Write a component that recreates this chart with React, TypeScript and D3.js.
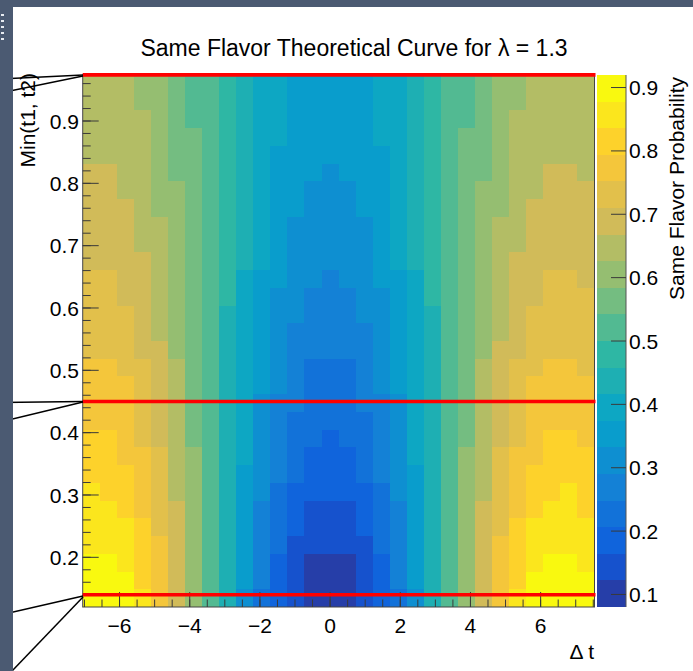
import React from "react";
import * as d3 from "d3";

const WIDTH = 693;
const HEIGHT = 671;

// ---- axis ranges / ticks ----
const deltaTRange: [number, number] = [-7.05, 7.535];
const minTRange: [number, number] = [0.1203, 0.9738];
const zRange: [number, number] = [0.0802, 0.9198];
const nContours = 20;
const xTickValues = [-6, -4, -2, 0, 2, 4, 6];
const yTickValues = [0.2, 0.3, 0.4, 0.5, 0.6, 0.7, 0.8, 0.9];
const zTickValues = [0.1, 0.2, 0.3, 0.4, 0.5, 0.6, 0.7, 0.8, 0.9];
const redLineLevels = [0.974, 0.45, 0.14];

// ---- Same flavor probability (%) : rows top (Min ~0.96) -> bottom (Min ~0.13), 30 Δt bins left -> right ----
const probabilityPercent: number[][] = [
  [65,65,65,60,60,56,52,52,48,44,40,40,35,35,35,35,35,40,40,44,48,52,52,56,60,60,65,65,65,65],
  [65,65,65,60,60,56,52,52,48,44,40,40,35,35,35,35,35,40,40,44,48,52,52,56,60,60,65,65,65,65],
  [65,65,65,65,60,56,52,52,48,44,40,40,35,35,35,35,35,40,40,44,48,52,52,56,60,65,65,65,65,65],
  [65,65,65,65,60,56,56,52,48,44,40,40,35,35,35,35,35,40,40,44,48,52,56,56,60,65,65,65,65,65],
  [65,65,65,65,60,56,56,52,48,44,40,35,35,35,35,35,35,35,40,44,48,52,56,56,60,65,65,65,65,65],
  [69,69,65,65,60,56,56,52,48,44,40,35,35,35,31,35,35,35,40,44,48,52,56,56,60,65,65,69,69,65],
  [69,69,65,65,60,60,56,52,48,44,40,35,35,31,31,31,35,35,40,44,48,52,56,60,60,65,65,69,69,69],
  [69,69,69,65,60,60,56,52,48,44,40,35,35,31,31,31,35,35,40,44,48,52,56,60,60,65,69,69,69,69],
  [69,69,69,65,65,60,56,52,48,44,40,35,31,31,31,31,31,35,40,44,48,52,56,60,65,65,69,69,69,69],
  [69,69,69,65,65,60,56,52,48,44,40,35,31,31,31,31,31,35,40,44,48,52,56,60,65,65,69,69,69,69],
  [69,69,69,69,65,60,56,52,48,44,40,35,31,31,31,31,31,35,40,44,48,52,56,60,65,69,69,69,69,69],
  [73,73,69,69,65,60,56,52,48,40,35,35,31,31,27,31,31,35,35,40,48,52,56,60,65,69,69,73,73,69],
  [73,73,69,69,65,60,56,52,48,40,35,31,31,27,27,27,31,31,35,40,48,52,56,60,65,69,69,73,73,73],
  [73,73,73,69,65,60,56,52,44,40,35,31,31,27,27,27,31,31,35,40,44,52,56,60,65,69,73,73,73,73],
  [73,73,73,69,65,60,56,52,44,40,35,31,27,27,27,27,27,31,35,40,44,52,56,60,65,69,73,73,73,73],
  [73,73,73,69,69,60,56,52,44,40,35,31,27,27,27,27,27,31,35,40,44,52,56,60,69,69,73,73,73,73],
  [77,77,73,73,69,65,56,52,44,40,35,31,27,23,23,23,27,31,35,40,44,52,56,65,69,73,73,77,77,73],
  [77,77,77,73,69,65,56,52,44,40,35,31,27,23,23,23,27,31,35,40,44,52,56,65,69,73,77,77,77,77],
  [77,77,77,73,69,65,56,52,44,40,31,27,27,23,23,23,27,27,31,40,44,52,56,65,69,73,77,77,77,77],
  [77,77,77,73,69,65,56,52,44,40,31,27,23,23,23,23,23,27,31,40,44,52,56,65,69,73,77,77,77,77],
  [81,81,77,73,69,65,56,52,44,40,31,27,23,23,19,23,23,27,31,40,44,52,56,65,69,73,77,81,81,77],
  [81,81,77,77,73,65,60,52,44,40,31,27,23,19,19,19,23,27,31,40,44,52,60,65,73,77,77,81,81,81],
  [81,81,81,77,73,65,60,52,44,35,31,27,23,19,19,19,23,27,31,35,44,52,60,65,73,77,81,81,81,81],
  [86,81,81,77,73,65,60,52,44,35,31,23,19,19,19,19,19,23,31,35,44,52,60,65,73,77,81,81,86,81],
  [86,86,81,77,73,69,60,52,44,35,27,23,19,14,14,14,19,23,27,35,44,52,60,69,73,77,81,86,86,81],
  [86,86,86,81,73,69,60,52,44,35,27,23,19,14,14,14,19,23,27,35,44,52,60,69,73,81,86,86,86,86],
  [86,86,86,81,77,69,60,52,44,35,27,23,14,14,14,14,14,23,27,35,44,52,60,69,77,81,86,86,86,86],
  [90,90,86,81,77,69,60,52,44,35,27,19,14,10,10,10,14,19,27,35,44,52,60,69,77,81,86,90,90,86],
  [90,90,90,81,77,69,60,52,44,35,27,19,14,10,10,10,14,19,27,35,44,52,60,69,77,81,90,90,90,90],
  [90,90,90,86,77,69,60,52,44,31,23,19,14,10,10,10,14,19,23,31,44,52,60,69,77,86,90,90,90,90],
];

// ---- ROOT kBird palette ----
const birdStops = [0.0, 0.125, 0.25, 0.375, 0.5, 0.625, 0.75, 0.875, 1.0];
const birdRed = [0.2082, 0.0592, 0.078, 0.0232, 0.1802, 0.5301, 0.8186, 0.9956, 0.9764];
const birdGreen = [0.1664, 0.3599, 0.5041, 0.6419, 0.7178, 0.7492, 0.7328, 0.7862, 0.9832];
const birdBlue = [0.5293, 0.8684, 0.8385, 0.7914, 0.6425, 0.4662, 0.3499, 0.1968, 0.0539];

function buildPalette(n: number): string[] {
  const out: string[] = [];
  for (let g = 1; g < birdStops.length; g++) {
    const nc = Math.floor(n * birdStops[g]) - Math.floor(n * birdStops[g - 1]);
    for (let c = 0; c < nc; c++) {
      const t = c / nc;
      const r = birdRed[g - 1] + t * (birdRed[g] - birdRed[g - 1]);
      const gg = birdGreen[g - 1] + t * (birdGreen[g] - birdGreen[g - 1]);
      const b = birdBlue[g - 1] + t * (birdBlue[g] - birdBlue[g - 1]);
      out.push(d3.rgb(r * 255, gg * 255, b * 255).formatHex());
    }
  }
  return out;
}
const palette = buildPalette(255);
const levelColors = d3.range(nContours).map((i) => palette[Math.min(254, Math.floor(((i + 0.99) * palette.length) / nContours))]);

function levelOf(z: number) {
  const lv = Math.floor(0.01 + ((z - zRange[0]) * nContours) / (zRange[1] - zRange[0]));
  return Math.max(0, Math.min(nContours - 1, lv));
}

// ---- layout ----
const plotLeft = 82.7;
const plotRight = 594.5;
const plotTop = 75;
const plotBottom = 607;
const barLeft = 597;
const barRight = 626;
const FONT = "'Liberation Sans', Arial, Helvetica, sans-serif";
const BAND = "#4b5a72";

export default function App() {
  const x = d3.scaleLinear().domain(deltaTRange).range([plotLeft, plotRight]);
  const y = d3.scaleLinear().domain(minTRange).range([plotBottom, plotTop]);
  const z = d3.scaleLinear().domain(zRange).range([plotBottom, plotTop]);

  const nRows = probabilityPercent.length;
  const nCols = probabilityPercent[0].length;
  const bw = (deltaTRange[1] - deltaTRange[0]) / nCols;
  const bh = (minTRange[1] - minTRange[0]) / nRows;

  const cells: JSX.Element[] = [];
  probabilityPercent.forEach((row, r) => {
    const yTop = Math.round(y(minTRange[1] - r * bh));
    const yBot = Math.round(y(minTRange[1] - (r + 1) * bh));
    row.forEach((p, c) => {
      const x0 = Math.round(x(deltaTRange[0] + c * bw));
      const x1 = Math.round(x(deltaTRange[0] + (c + 1) * bw));
      cells.push(
        <rect key={`c${r}-${c}`} x={x0} y={yTop} width={x1 - x0} height={yBot - yTop} fill={levelColors[levelOf(p / 100)]} />
      );
    });
  });

  const dz = (zRange[1] - zRange[0]) / nContours;
  const barBands = d3.range(nContours).map((i) => {
    const yt = Math.round(z(zRange[0] + (i + 1) * dz));
    const yb = Math.round(z(zRange[0] + i * dz));
    return <rect key={`b${i}`} x={barLeft} y={yt} width={barRight - barLeft} height={yb - yt} fill={levelColors[i]} />;
  });

  const yMinor = d3.range(1, 50).map((i) => i * 0.02).filter((v) => v > minTRange[0] && v < minTRange[1]);
  const xMinor = d3.range(-16, 17).map((i) => i * 0.5).filter((v) => v >= deltaTRange[0] && v <= deltaTRange[1]);
  const tickColor = "#3a3a3a";

  return (
    <svg width={WIDTH} height={HEIGHT} style={{ position: "absolute", left: 0, top: 0, display: "block", background: "#fff" }} fontFamily={FONT}>
      <rect x={0} y={0} width={WIDTH} height={HEIGHT} fill="#ffffff" />
      <g shapeRendering="crispEdges">{cells}</g>

      {/* frame */}
      <rect x={plotLeft} y={plotTop} width={plotRight - plotLeft} height={plotBottom - plotTop} fill="none" stroke="#444" strokeWidth={1} />

      {/* y ticks */}
      {yMinor.map((v) => (
        <line key={`ym${v}`} x1={plotLeft} x2={plotLeft + 8} y1={y(v)} y2={y(v)} stroke={tickColor} strokeWidth={1} />
      ))}
      {yTickValues.map((v) => (
        <line key={`yM${v}`} x1={plotLeft} x2={plotLeft + 16} y1={y(v)} y2={y(v)} stroke={tickColor} strokeWidth={1} />
      ))}
      {yTickValues.map((v) => (
        <text key={`yl${v}`} x={79} y={y(v)} dy="0.36em" textAnchor="end" fontSize={21} fill="#000">
          {v.toFixed(1)}
        </text>
      ))}

      {/* x ticks */}
      {xMinor.map((v) => (
        <line key={`xm${v}`} x1={x(v)} x2={x(v)} y1={plotBottom} y2={plotBottom - 7.5} stroke={tickColor} strokeWidth={1} />
      ))}
      {xTickValues.map((v) => (
        <line key={`xM${v}`} x1={x(v)} x2={x(v)} y1={plotBottom} y2={plotBottom - 15} stroke={tickColor} strokeWidth={1} />
      ))}
      {xTickValues.map((v) => (
        <text key={`xl${v}`} x={x(v)} y={633} textAnchor="middle" fontSize={21} fill="#000">
          {v < 0 ? `\u2212${Math.abs(v)}` : `${v}`}
        </text>
      ))}

      {/* red lines */}
      {redLineLevels.map((v) => (
        <line key={`red${v}`} x1={plotLeft} x2={plotRight + 1} y1={y(v)} y2={y(v)} stroke="#ff0000" strokeWidth={3.6} />
      ))}

      {/* colour bar */}
      <g shapeRendering="crispEdges">{barBands}</g>
      <line x1={barRight} x2={barRight} y1={plotTop} y2={plotBottom} stroke="#555" strokeWidth={1} />
      {zTickValues.map((v) => (
        <line key={`zt${v}`} x1={barRight - 15} x2={barRight} y1={z(v)} y2={z(v)} stroke={tickColor} strokeWidth={1} />
      ))}
      {zTickValues.map((v) => (
        <text key={`zl${v}`} x={629} y={z(v)} dy="0.36em" textAnchor="start" fontSize={21} fill="#000">
          {v.toFixed(1)}
        </text>
      ))}

      {/* titles */}
      <text x={354} y={56} textAnchor="middle" fontSize={23} fill="#000">
        Same Flavor Theoretical Curve for λ = 1.3
      </text>
      <text transform="translate(35,73) rotate(-90)" textAnchor="end" fontSize={21} fill="#000">
        Min(t1, t2)
      </text>
      <text x={594} y={659} textAnchor="end" fontSize={21} fill="#000">
        Δ t
      </text>
      <text transform="translate(684,77) rotate(-90)" textAnchor="end" fontSize={21} fill="#000">
        Same Flavor Probability
      </text>

      {/* annotation lines from the slide */}
      <g stroke="#000" strokeWidth={1.5} fill="none">
        <line x1={0} y1={79} x2={83} y2={75} />
        <line x1={0} y1={93} x2={83} y2={76} />
        <line x1={0} y1={402.5} x2={83} y2={401.5} />
        <line x1={0} y1={422} x2={83} y2={402} />
        <line x1={0} y1={615} x2={83} y2={596} />
        <line x1={12} y1={671} x2={83} y2={597} />
      </g>

      {/* slide chrome */}
      <rect x={0} y={0} width={WIDTH} height={7} fill={BAND} />
      <rect x={0} y={0} width={13} height={HEIGHT} fill={BAND} />
      {[14, 20, 26, 32, 38].map((v) => (
        <rect key={`wm${v}`} x={1} y={v} width={3} height={2} fill="#e8ecf2" />
      ))}
    </svg>
  );
}
